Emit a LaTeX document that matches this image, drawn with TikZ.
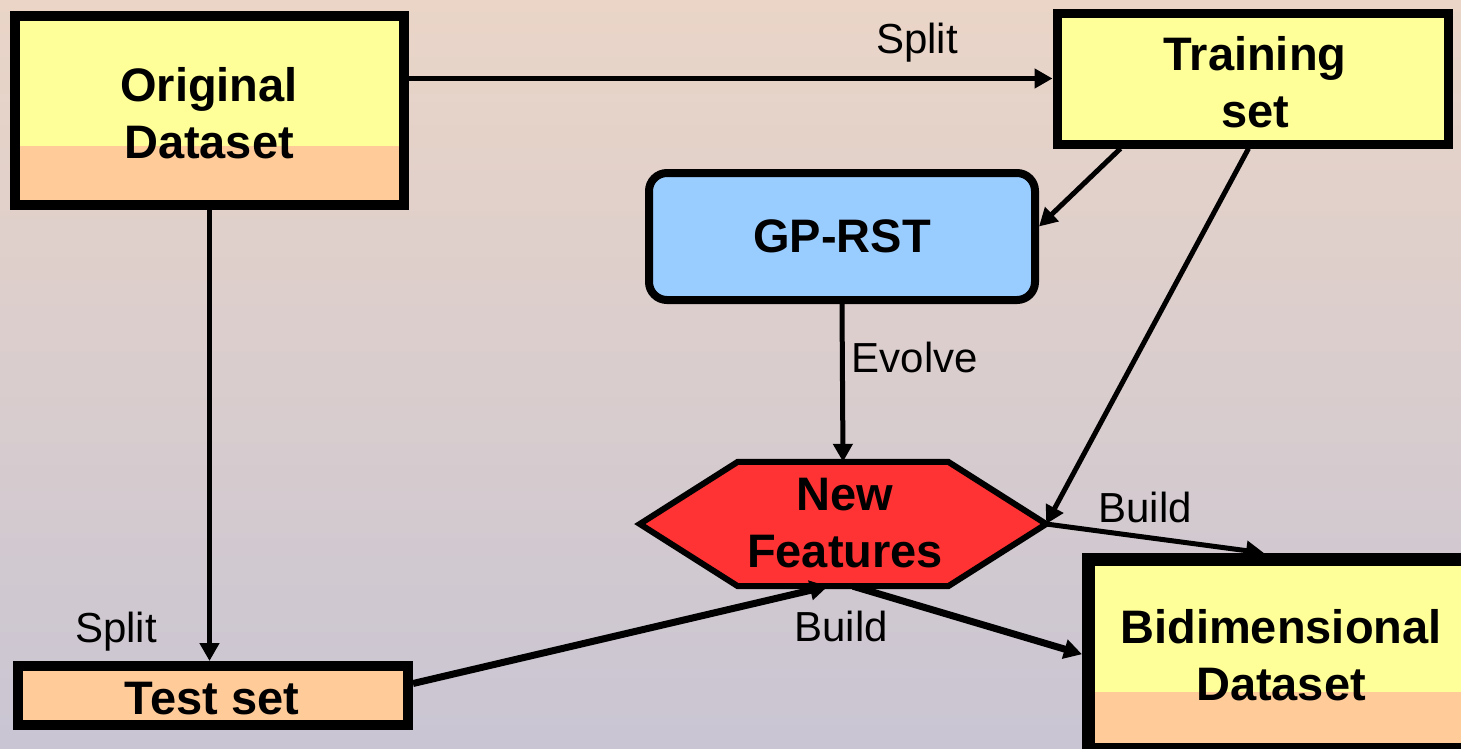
\documentclass[tikz,border=0pt]{standalone}
\usepackage{fontspec}
\setmainfont{Liberation Sans}
\usetikzlibrary{arrows.meta,calc,backgrounds}
\definecolor{paleyellow}{HTML}{FFFF99}
\definecolor{peach}{HTML}{FFCC99}
\definecolor{skyblue}{HTML}{99CCFF}
\definecolor{hexred}{HTML}{FF3333}
\definecolor{bgtop}{HTML}{EAD5C7}
\definecolor{bgmid}{HTML}{D9BDC8}
\definecolor{bgbot}{HTML}{C9C5D3}
\begin{document}
\begin{tikzpicture}[x=1pt,y=-1pt,
  box/.style={draw=black, rectangle, inner sep=0pt, fill=paleyellow},
  lowerfill/.style={path picture={\fill[peach] (path picture bounding box.south west) rectangle ([yshift=#1]path picture bounding box.south east);}},
  boxtext/.style={font=\bfseries\fontsize{47}{57}\selectfont, align=center, anchor=base, inner sep=0pt},
  lbl/.style={font=\fontsize{42}{50}\selectfont, anchor=base, inner sep=0pt},
  link/.style={line width=5pt, -{Triangle[length=18pt,width=19pt]}},
]
\useasboundingbox (0,0) rectangle (1461,748);
\clip (0,0) rectangle (1461,748);

% boxes
\node[box, line width=10pt, lowerfill=59pt, minimum width=389pt, minimum height=189pt] (orig) at (209.5,110.5) {};
\node[box, line width=9pt, minimum width=391pt, minimum height=131pt] (train) at (1252.5,78.5) {};
\node[box, line width=8pt, fill=skyblue, rounded corners=18pt, minimum width=386pt, minimum height=127pt] (gp) at (842,236.5) {};
\node[rectangle, inner sep=0pt, minimum width=406pt, minimum height=124pt] (nf) at (843,524) {};
\node[box, line width=13pt, lowerfill=57pt, minimum width=391.5pt, minimum height=189.5pt] (bidim) at (1284.25,654.25) {};
\node[box, line width=10pt, fill=peach, minimum width=390pt, minimum height=59pt] (test) at (213,695.5) {};

% backdrop and the hexagon behind the texts
\begin{scope}[on background layer]
  \shade[top color=bgtop, middle color=bgmid, bottom color=bgbot] (0,0) rectangle (1461,748);
  \draw[line width=6pt, fill=hexred, line join=miter]
    (nf.west) -- ([xshift=98pt]nf.north west) -- ([xshift=-98pt]nf.north east) -- (nf.east)
    -- ([xshift=-98pt]nf.south east) -- ([xshift=98pt]nf.south west) -- cycle;
\end{scope}

% box texts (anchored at the baseline of their last line)
\node[boxtext] (origtext) at (209,158) {Original\\Dataset};
\node[boxtext] (traintext) at (1255,127) {Training\\set};
\node[boxtext] (gptext) at (842,252) {GP-RST};
\node[boxtext] (nftext) at (845,567) {New\\Features};
\node[boxtext] (bidimtext) at (1281,700) {Bidimensional\\Dataset};
\node[boxtext] (testtext) at (212,714) {Test set};

% connectors
\draw[link] (orig.east |- train.west) -- (train.west);
\draw[link] (orig.south) -- (orig.south |- test.north);
\draw[link] ($(train.south west)!0.17!(train.south east)$) -- ([yshift=10pt]gp.east);
\draw[link] ($(train.south west)!0.49!(train.south east)$) -- (nf.east);
\draw[link] (gp.south) -- (nf.north);
\draw[link] (nf.east) -- ([xshift=182pt]bidim.north west);
\draw[link, line width=7pt] ([xshift=10pt]nf.south) -- (bidim.west);
\draw[link, line width=7pt] ([yshift=12pt]test.east) -- ([xshift=-15pt]nf.south);

% connector labels
\node[lbl] (split1) at (917,53) {Split};
\node[lbl] (split2) at (116,642) {Split};
\node[lbl] (evolve) at (915,372) {Evolve};
\node[lbl] (build1) at (1145,522) {Build};
\node[lbl] (build2) at (841,641) {Build};
\end{tikzpicture}
\end{document}
